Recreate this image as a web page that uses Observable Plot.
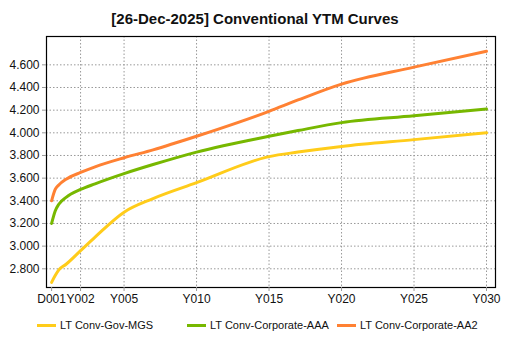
<!DOCTYPE html>
<html><head><meta charset="utf-8">
<script src="https://cdn.jsdelivr.net/npm/d3@7"></script>
<script src="https://cdn.jsdelivr.net/npm/@observablehq/plot@0.6"></script>
<style>
body{margin:0;background:#fff;font-family:"Liberation Sans",Arial,sans-serif;}
#title{height:28px;line-height:38px;text-align:center;font-weight:bold;font-size:15px;color:#111;width:510px;}
#legend{position:relative;height:30px;width:510px;font-size:11px;color:#111;}
.li{position:absolute;top:8px;display:flex;align-items:center;}
.sw{width:19px;height:3px;margin-right:4px;}
#chart svg text{font-size:12px !important;font-family:"Liberation Sans",Arial,sans-serif !important;}
</style></head>
<body>
<div id="title">[26-Dec-2025] Conventional YTM Curves</div>
<div id="chart"></div>
<div id="legend"></div>
<script>
const tenors = [1/365, 0.25, 0.5, 1, 2, 3, 5, 7, 10, 15, 17, 20, 25, 30];
const mgs = [2.68, 2.74, 2.79, 2.84, 2.96, 3.08, 3.30, 3.42, 3.56, 3.79, 3.83, 3.88, 3.94, 4.00];
const aaa = [3.20, 3.31, 3.37, 3.43, 3.50, 3.55, 3.64, 3.72, 3.83, 3.97, 4.02, 4.09, 4.15, 4.21];
const aa2 = [3.40, 3.50, 3.54, 3.59, 3.65, 3.70, 3.78, 3.85, 3.97, 4.19, 4.29, 4.43, 4.58, 4.72];
const seriesNames = ["LT Conv-Gov-MGS", "LT Conv-Corporate-AAA", "LT Conv-Corporate-AA2"];
const seriesColors = ["#FFCC1A", "#77B800", "#FF8133"];
const xTickValues = [1/365, 2, 5, 10, 15, 20, 25, 30];
const xTickLabels = ["D001", "Y002", "Y005", "Y010", "Y015", "Y020", "Y025", "Y030"];
const yTickValues = [2.8, 3.0, 3.2, 3.4, 3.6, 3.8, 4.0, 4.2, 4.4, 4.6];

const allSeries = [mgs, aaa, aa2];
const data = [];
allSeries.forEach((vals, si) => vals.forEach((v, i) => data.push({series: seriesNames[si], t: tenors[i], y: v})));

const fmtX = v => xTickLabels[xTickValues.indexOf(v)];
const chart = Plot.plot({
  width: 510, height: 283,
  marginLeft: 46, marginRight: 15, marginTop: 8, marginBottom: 24,
  style: {fontFamily: "'Liberation Sans', Arial, sans-serif", fontSize: "12px", color: "#111", background: "#fff"},
  x: {domain: [-0.35, 30.62], label: null},
  y: {domain: [2.635, 4.85], label: null},
  color: {domain: seriesNames, range: seriesColors},
  marks: [
    Plot.gridX(xTickValues.slice(1), {stroke: "#999", strokeOpacity: 1, strokeDasharray: "1.5,2"}),
    Plot.gridY(yTickValues, {stroke: "#999", strokeOpacity: 1, strokeDasharray: "1.5,2"}),
    Plot.line(data, {x: "t", y: "y", z: "series", stroke: "series", strokeWidth: 3, curve: "monotone-x"}),
    Plot.frame({stroke: "#000", strokeWidth: 1.2}),
    Plot.axisX({ticks: xTickValues, tickFormat: fmtX, tickSize: 4, tickPadding: 3, stroke: "#999", fontSize: 12, style: {letterSpacing: "0.5px"}}),
    Plot.axisY({ticks: yTickValues, tickFormat: d3.format(".3f"), tickSize: 4, tickPadding: 3, stroke: "#999", fontSize: 12, style: {letterSpacing: "0.1px"}})
  ]
});
document.getElementById("chart").appendChild(chart);

const legend = document.getElementById("legend");
const lx = [37, 187, 337];
seriesNames.forEach((n, i) => {
  const d = document.createElement("div");
  d.className = "li"; d.style.left = lx[i] + "px";
  d.innerHTML = `<span class="sw" style="background:${seriesColors[i]}"></span><span>${n}</span>`;
  legend.appendChild(d);
});
</script>
</body></html>
